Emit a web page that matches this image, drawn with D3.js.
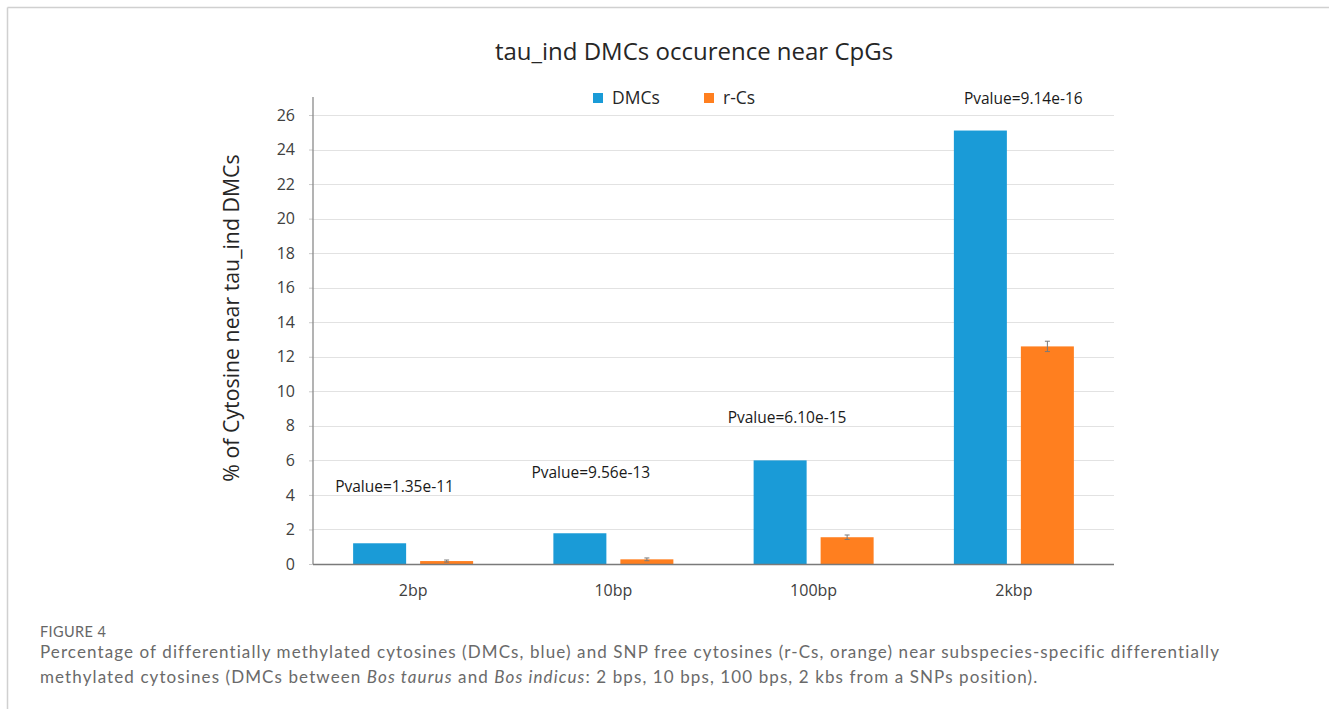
<!DOCTYPE html>
<html>
<head>
<meta charset="utf-8">
<script src="https://cdn.jsdelivr.net/npm/d3@7"></script>
<style>
  html, body { margin: 0; padding: 0; background: #fff; }
  svg { display: block; }
</style>
</head>
<body>
<svg id="chart" width="1329" height="709"></svg>
<script>
// Distance classes and the two compared series (percent)
const categories = ["2bp", "10bp", "100bp", "2kbp"];
const seriesNames = ["DMCs", "r-Cs"];
const dmcValues = [1.2, 1.78, 6.0, 25.1];
const rcsValues = [0.17, 0.27, 1.55, 12.6];
const rcsErrors = [0.06, 0.08, 0.13, 0.3];
const pvalueLabels = ["Pvalue=1.35e-11", "Pvalue=9.56e-13", "Pvalue=6.10e-15", "Pvalue=9.14e-16"];
const pvalueAnchors = [4.17, 4.98, 8.16, 26.64];
const yTicks = [0, 2, 4, 6, 8, 10, 12, 14, 16, 18, 20, 22, 24, 26];

const colors = { "DMCs": "#1a9bd7", "r-Cs": "#ff7f1f" };
const chartFont = "'Open Sans', 'Noto Sans', sans-serif";
const captionFont = "Lato, 'Open Sans', sans-serif";

const svg = d3.select("#chart");

// Page frame (top and left rules)
svg.append("line").attr("x1", 7.5).attr("x2", 1329).attr("y1", 7.5).attr("y2", 7.5)
  .attr("stroke", "#d0d0d0").attr("stroke-width", 1.5);
svg.append("line").attr("x1", 7.5).attr("x2", 7.5).attr("y1", 7.5).attr("y2", 709)
  .attr("stroke", "#d0d0d0").attr("stroke-width", 1.5);

const plot = { left: 313, right: 1114, top: 115, bottom: 564 };

const x = d3.scaleBand().domain(categories).range([plot.left, plot.right]).paddingInner(0).paddingOuter(0);
const y = d3.scaleLinear().domain([0, 26]).range([plot.bottom, plot.top]);

const barW = 53, barGap = 14;

// Gridlines
svg.append("g").selectAll("line").data(yTicks.filter(d => d > 0)).join("line")
  .attr("x1", plot.left).attr("x2", plot.right)
  .attr("y1", d => Math.round(y(d)) + 0.5).attr("y2", d => Math.round(y(d)) + 0.5)
  .attr("stroke", "#e2e2e2").attr("stroke-width", 1.2);

// Y axis
const yAxis = d3.axisLeft(y).tickValues(yTicks).tickSize(4).tickPadding(14);
const yg = svg.append("g").attr("transform", `translate(${plot.left},0)`).call(yAxis);
yg.select(".domain").remove();
yg.selectAll(".tick line").attr("stroke", "#c8c8c8");
yg.selectAll("text").attr("font-family", chartFont).attr("font-size", 16).attr("fill", "#404040");
svg.append("line").attr("x1", plot.left).attr("x2", plot.left).attr("y1", 97).attr("y2", plot.bottom)
  .attr("stroke", "#8a8a8a").attr("stroke-width", 1.3);

// Bars
const dmcX = c => x(c) + x.bandwidth() / 2 - barGap / 2 - barW;
const rcsX = c => x(c) + x.bandwidth() / 2 + barGap / 2;

svg.append("g").selectAll("rect").data(categories).join("rect")
  .attr("x", c => dmcX(c)).attr("width", barW)
  .attr("y", (c, i) => y(dmcValues[i])).attr("height", (c, i) => y(0) - y(dmcValues[i]))
  .attr("fill", colors["DMCs"]);

svg.append("g").selectAll("rect").data(categories).join("rect")
  .attr("x", c => rcsX(c)).attr("width", barW)
  .attr("y", (c, i) => y(rcsValues[i])).attr("height", (c, i) => y(0) - y(rcsValues[i]))
  .attr("fill", colors["r-Cs"]);

// Error bars on r-Cs
const eb = svg.append("g").attr("stroke", "#7a7a7a").attr("stroke-width", 1);
categories.forEach((c, i) => {
  const cx = rcsX(c) + barW / 2;
  const y0 = y(rcsValues[i] - rcsErrors[i]), y1 = y(rcsValues[i] + rcsErrors[i]);
  eb.append("line").attr("x1", cx).attr("x2", cx).attr("y1", y0).attr("y2", y1);
  eb.append("line").attr("x1", cx - 2.5).attr("x2", cx + 2.5).attr("y1", y0).attr("y2", y0);
  eb.append("line").attr("x1", cx - 2.5).attr("x2", cx + 2.5).attr("y1", y1).attr("y2", y1);
});

// X axis baseline
svg.append("line").attr("x1", plot.left).attr("x2", plot.right)
  .attr("y1", plot.bottom + 0.5).attr("y2", plot.bottom + 0.5)
  .attr("stroke", "#7a7a7a").attr("stroke-width", 1.3);

// Category labels
svg.append("g").selectAll("text").data(categories).join("text")
  .attr("x", c => x(c) + x.bandwidth() / 2).attr("y", 596)
  .attr("text-anchor", "middle").attr("font-family", chartFont).attr("font-size", 16)
  .attr("fill", "#404040").text(c => c);

// P-value annotations: text starts just left of the DMC bar (right of it for the last group)
const pvalueShift = [-18, -22, -26, 10];
svg.append("g").selectAll("text").data(categories).join("text")
  .attr("x", (c, i) => dmcX(c) + pvalueShift[i])
  .attr("y", (c, i) => y(pvalueAnchors[i]))
  .attr("text-anchor", "start").attr("font-family", chartFont).attr("font-size", 15.5)
  .attr("fill", "#1a1a1a").text((c, i) => pvalueLabels[i]);

// Title
svg.append("text").attr("x", 694).attr("y", 60).attr("text-anchor", "middle")
  .attr("font-family", chartFont).attr("font-size", 24).attr("fill", "#262626")
  .text("tau_ind DMCs occurence near CpGs");

// Legend
const legendPos = [{ name: "DMCs", x: 593 }, { name: "r-Cs", x: 704 }];
const lg = svg.append("g");
legendPos.forEach(d => {
  lg.append("rect").attr("x", d.x).attr("y", 93).attr("width", 10).attr("height", 10).attr("fill", colors[d.name]);
  lg.append("text").attr("x", d.x + 19).attr("y", 104).attr("font-family", chartFont)
    .attr("font-size", 17.5).attr("fill", "#262626").text(d.name);
});

// Y axis title
svg.append("text").attr("transform", "translate(239,318) rotate(-90)")
  .attr("text-anchor", "middle").attr("font-family", chartFont).attr("font-size", 21.3)
  .attr("fill", "#262626").text("% of Cytosine near tau_ind DMCs");

// Caption
const figLabel = svg.append("text").attr("x", 40).attr("y", 637).attr("font-family", captionFont)
  .attr("font-size", 14.5).attr("fill", "#666").text("FIGURE 4");

const cap1 = svg.append("text").attr("x", 40).attr("y", 658).attr("font-family", captionFont)
  .attr("font-size", 17).attr("fill", "#6a6a6a");
cap1.text("Percentage of differentially methylated cytosines (DMCs, blue) and SNP free cytosines (r-Cs, orange) near subspecies-specific differentially");
const cap2 = svg.append("text").attr("x", 40).attr("y", 683).attr("font-family", captionFont)
  .attr("font-size", 17).attr("fill", "#6a6a6a");
cap2.append("tspan").text("methylated cytosines (DMCs between ");
cap2.append("tspan").attr("font-style", "italic").text("Bos taurus");
cap2.append("tspan").text(" and ");
cap2.append("tspan").attr("font-style", "italic").text("Bos indicus");
cap2.append("tspan").text(": 2 bps, 10 bps, 100 bps, 2 kbs from a SNPs position).");

// Loose tracking for the caption body so the first line spans the text block
const capNode = cap1.node();
const capText = cap1.text();
const spacing = (1178 - capNode.getComputedTextLength()) / (capText.length - 1);
cap1.attr("letter-spacing", spacing);
cap2.attr("letter-spacing", spacing);
figLabel.attr("letter-spacing", 0.4);
</script>
</body>
</html>
